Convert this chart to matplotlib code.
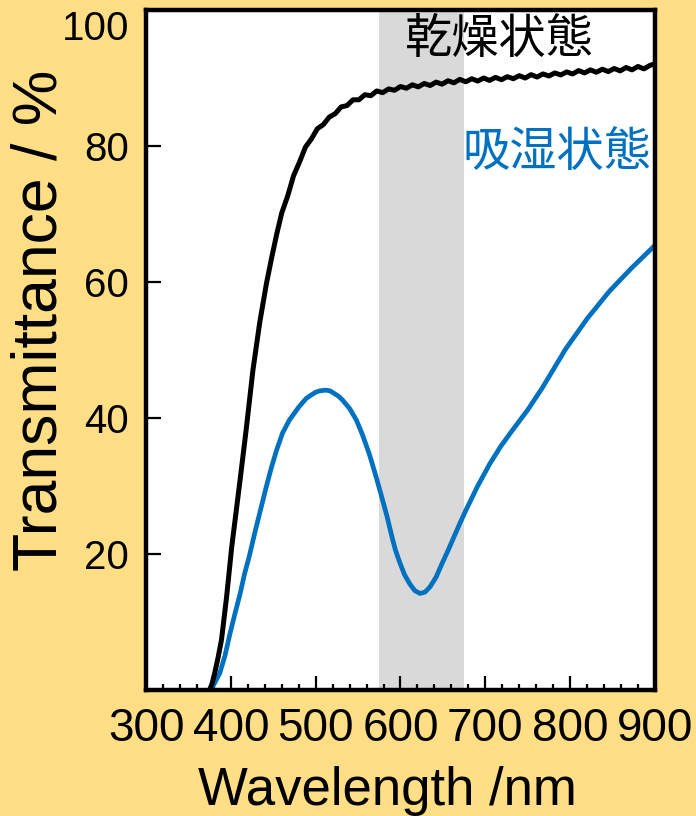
import matplotlib
matplotlib.use("Agg")
from matplotlib import pyplot as plt
from matplotlib.ticker import MultipleLocator

BG = '#FFDE85'
BLUE = '#0070C0'

# dry state (black), nm / %
dry_nm = [375, 378, 381, 385, 389, 395, 401, 407, 411, 418, 426, 434, 442, 448, 454,
          460, 467, 474, 481, 488, 495, 502, 509, 516, 523, 530, 537, 544, 551, 558,
          565, 572, 579, 586, 593, 600, 607, 614, 621, 628, 635, 642, 649, 656, 663,
          670, 677, 684, 691, 698, 705, 712, 719, 726, 733, 740, 747, 754, 761, 768,
          775, 782, 789, 796, 803, 810, 817, 824, 831, 838, 845, 852, 859, 866, 873,
          880, 887, 894, 900]
dry_t = [0.0, 1.0, 2.5, 4.8, 7.4, 13.7, 21.0, 27.0, 31.0, 38.2, 47.0, 54.0, 59.8, 63.5, 67.0,
         70.15, 72.65, 75.65, 77.65, 79.85, 81.05, 82.55, 83.15, 84.25, 84.75, 85.75, 85.95, 86.8, 86.8, 87.55,
         87.4, 88.1, 87.85, 88.4, 88.2, 88.75, 88.5, 89.0, 88.7, 89.2, 88.9, 89.4, 89.1, 89.6, 89.3,
         89.8, 89.45, 89.9, 89.55, 90.0, 89.65, 90.1, 89.75, 90.2, 89.9, 90.35, 90.0, 90.5, 90.15, 90.6,
         90.3, 90.75, 90.45, 90.9, 90.6, 91.1, 90.75, 91.2, 90.85, 91.3, 90.95, 91.4, 91.05, 91.55, 91.2,
         91.7, 91.35, 91.85, 92.1]

# humid state (blue)
wet_nm = [375, 380, 387, 393, 399, 405, 411, 416, 422, 428, 434, 442, 448, 454, 461,
          469, 480, 489, 495, 500, 505, 512, 517, 522, 527, 532, 540, 548, 555, 563,
          570, 577, 584, 590, 594, 599, 605, 611, 617, 623, 629, 635, 642, 649, 656,
          663, 670, 677, 691, 705, 718, 732, 750, 767, 781, 795, 820, 846, 872, 900]
wet_t = [0.0, 0.8, 2.5, 5.0, 8.3, 11.3, 14.2, 17.0, 19.8, 23.0, 26.0, 30.0, 32.8, 35.3, 37.8,
         39.7, 41.6, 42.9, 43.4, 43.8, 44.0, 44.1, 44.0, 43.6, 43.2, 42.6, 41.4, 39.7, 37.6, 34.8,
         31.9, 28.8, 25.6, 22.5, 20.6, 18.8, 16.9, 15.6, 14.6, 14.2, 14.4, 15.2, 16.6, 18.6, 20.5,
         22.5, 24.5, 26.4, 30.0, 33.2, 35.8, 38.2, 41.2, 44.4, 47.3, 50.2, 54.6, 58.6, 62.0, 65.4]

band = (575, 675)
y_ticks = [20, 40, 60, 80, 100]
x_ticks = [300, 400, 500, 600, 700, 800, 900]

plt.rcParams['font.family'] = ['Liberation Sans', 'DejaVu Sans']
cjk = ['Noto Sans CJK JP', 'DejaVu Sans']

fig = plt.figure(figsize=(6.96, 8.16), dpi=100, facecolor=BG)
ax = fig.add_axes([0.2098, 0.1544, 0.7312, 0.8333])
ax.set_facecolor('white')

ax.axvspan(*band, color='#D9D9D9', lw=0, zorder=0)
ax.plot(dry_nm, dry_t, color='black', lw=3.6, solid_joinstyle='round', zorder=3)
ax.plot(wet_nm, wet_t, color=BLUE, lw=3.4, solid_joinstyle='round', zorder=2)

ax.text(716, 95.7, '乾燥状態', family=cjk, fontsize=34, color='black', ha='center', va='center')
ax.text(785, 79.0, '吸湿状態', family=cjk, fontsize=34, color=BLUE, ha='center', va='center')

ax.set_xlim(300, 900)
ax.set_ylim(0, 100)
ax.set_xticks(x_ticks)
ax.set_yticks(y_ticks)
ax.xaxis.set_minor_locator(MultipleLocator(20))

for s in ax.spines.values():
    s.set_linewidth(3.2)

ax.tick_params(axis='x', which='major', direction='in', length=10, width=1.6, labelsize=33, pad=12)
ax.tick_params(axis='x', which='minor', direction='in', length=4.3, width=1.6)
ax.tick_params(axis='y', which='major', direction='in', length=11, width=1.6, labelsize=29, pad=12)

# top label sits inside the figure, below the frame edge
fig.canvas.draw()
ax.get_yticklabels()[-1].set_va('top')

ax.set_xlabel('Wavelength /nm', fontsize=38, va='baseline')
ax.xaxis.set_label_coords(0.4745, -0.169)
ax.set_ylabel('Transmittance / %', fontsize=45, va='center')
ax.yaxis.set_label_coords(-0.208, 0.543)

fig.savefig('out.png', dpi=100, facecolor=BG)
